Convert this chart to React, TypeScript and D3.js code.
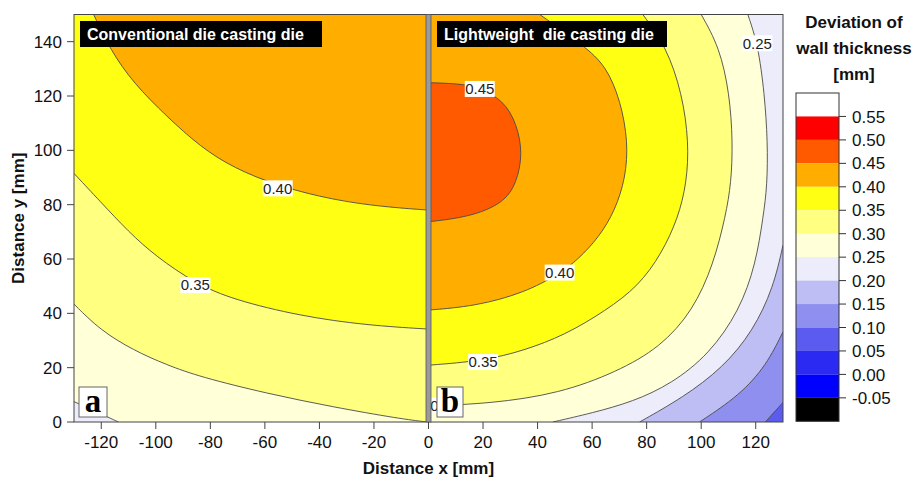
import React from 'react';
import * as d3 from 'd3';

// contour levels (legend, top to bottom) and the band colour above each level
const levels = [0.55, 0.5, 0.45, 0.4, 0.35, 0.3, 0.25, 0.2, 0.15, 0.1, 0.05, 0.0, -0.05];
const bandColors = ['#ffffff', '#ff0000', '#ff5a00', '#ffae00', '#ffff14', '#ffff80', '#ffffd8',
  '#ececfa', '#bebef5', '#8f8ff0', '#5b5bf0', '#2a2af2', '#0000ff', '#000000'];

const xTicks = [-120, -100, -80, -60, -40, -20, 0, 20, 40, 60, 80, 100, 120];
const yTicks = [0, 20, 40, 60, 80, 100, 120, 140];

// conventional die (x < 0), contour lines [x mm, y mm]
const conv25 = [[-130, 7.5], [-121, 3.4], [-113.7, 0]];
const conv30 = [[-130, 43.4], [-120.4, 33.8], [-108.2, 26.4], [-96, 21], [-83.7, 16.6], [-59.3, 10.5], [-34.9, 5.5], [-10.5, 1.2], [-0.5, 0]];
const conv35 = [[-130, 91.5], [-120.4, 81.2], [-110, 70], [-100, 61], [-85.5, 51], [-71.5, 45], [-47, 39], [-22.7, 35.6], [0, 34.2]];
const conv40 = [[-122.8, 150], [-116.7, 137], [-108.2, 124.7], [-95.9, 112.4], [-83.7, 101.3], [-71.5, 93.5], [-55, 86.8], [-34.9, 81.7], [-16.6, 79.2], [0, 78]];

// lightweight die (x > 0)
const light10 = [[130, 7.2], [126.5, 3.3], [123.5, 0]];
const light15 = [[130, 33.2], [124, 21], [114.1, 9.8], [99.4, 0]];
const light20 = [[130, 65.1], [126.5, 49.5], [119, 33.5], [108, 20], [93.3, 9], [77.4, 0]];
const light25 = [[117.1, 150], [120.8, 139], [123.2, 121], [124.4, 103], [124.2, 87], [122.8, 76], [120, 58], [114, 41], [103, 25], [89, 14], [75, 7.5], [60, 3.3], [45.6, 0]];
const light30 = [[100, 150], [106.7, 138], [110.4, 121], [111.6, 103], [111, 88], [109, 76], [104.5, 58], [97, 41], [85, 27.5], [69, 18.4], [48, 10.5], [23, 6.8], [0, 5.9]];
const light35 = [[78.6, 150], [87.2, 138.2], [93, 121], [95.5, 103], [94.7, 88], [91.5, 75], [85.5, 62], [77, 50], [65, 41], [50, 32], [35, 26.3], [20, 22.5], [0, 20.9]];
const light40 = [[40.8, 150], [57, 138.5], [65.2, 131], [70.5, 118], [73.2, 103], [72.3, 90], [68.5, 78], [62.5, 68], [55, 60], [48, 54.5], [35, 47.5], [17, 42.6], [0, 41.2]];
const light45 = [[0, 124.9], [12.7, 124.5], [18.8, 122.8], [27.4, 118.5], [32.3, 110], [34.6, 98.9], [32.3, 87.8], [27.4, 80.5], [15.2, 75.5], [0, 73.7]];

// inline contour labels [x, y, text]
const labels: [number, number, string][] = [
  [-55.3, 86, '0.40'], [-85.5, 50.4, '0.35'],
  [18.8, 122.6, '0.45'], [48.1, 55, '0.40'], [20, 22.1, '0.35'], [120.6, 139.4, '0.25'], [6, 6.1, '0.30'],
];

const x = d3.scaleLinear().domain([-130, 130]).range([74, 783]);
const y = d3.scaleLinear().domain([0, 150]).range([422, 14.5]);
const legendY = d3.scaleLinear().domain([0.6, -0.1]).range([93, 421.3]);
const x0 = x(0);

const line = d3.line<number[]>().x(d => x(d[0])).y(d => y(d[1])).curve(d3.curveBasis);
const region = (pts: number[][], close: number[][]) =>
  line(pts) + close.map(c => `L${x(c[0])},${y(c[1])}`).join('') + 'Z';
const above = (lv: number) => bandColors[levels.indexOf(lv)];
const below = (lv: number) => bandColors[levels.indexOf(lv) + 1];

const leftSets = [
  { lv: 0.25, pts: conv25, close: [[0, 0], [0, 150], [-130, 150]] },
  { lv: 0.3, pts: conv30, close: [[0, 0], [0, 150], [-130, 150]] },
  { lv: 0.35, pts: conv35, close: [[0, 150], [-130, 150]] },
  { lv: 0.4, pts: conv40, close: [[0, 150]] },
];
const rightSets = [
  { lv: 0.1, pts: light10, close: [[0, 0], [0, 150], [130, 150]] },
  { lv: 0.15, pts: light15, close: [[0, 0], [0, 150], [130, 150]] },
  { lv: 0.2, pts: light20, close: [[0, 0], [0, 150], [130, 150]] },
  { lv: 0.25, pts: light25, close: [[0, 0], [0, 150]] },
  { lv: 0.3, pts: light30, close: [[0, 150]] },
  { lv: 0.35, pts: light35, close: [[0, 150]] },
  { lv: 0.4, pts: light40, close: [[0, 150]] },
  { lv: 0.45, pts: light45, close: [] },
];

const font = 'Arial, "Liberation Sans", sans-serif';
const serif = '"Liberation Serif", "Times New Roman", serif';

const Panel = ({ id, sets, bg, x1, x2 }: any) => (
  <g>
    <clipPath id={id}>
      <rect x={x(x1)} y={y(150)} width={x(x2) - x(x1)} height={y(0) - y(150)} />
    </clipPath>
    <g clipPath={`url(#${id})`}>
      <rect x={x(x1)} y={y(150)} width={x(x2) - x(x1)} height={y(0) - y(150)} fill={bg} />
      {sets.map((s: any, i: number) => (
        <path key={'f' + i} d={region(s.pts, s.close)} fill={above(s.lv)} />
      ))}
      {sets.map((s: any, i: number) => (
        <path key={'l' + i} d={line(s.pts) || ''} fill="none" stroke="#4a4a4a" strokeWidth={0.9} />
      ))}
    </g>
  </g>
);

export default function App() {
  return (
    <svg width={914} height={482} style={{ display: 'block', position: 'absolute', left: 0, top: 0 }}>
      <rect width={914} height={482} fill="#fff" />
      <Panel id="clipL" sets={leftSets} bg={below(0.25)} x1={-130} x2={0} />
      <Panel id="clipR" sets={rightSets} bg={below(0.1)} x1={0} x2={130} />

      {labels.map(([lx, ly, t], i) => (
        <g key={i}>
          <rect x={x(lx) - 15} y={y(ly) - 8} width={30} height={16} fill="#fff" />
          <text x={x(lx)} y={y(ly)} dy="0.36em" textAnchor="middle" fontFamily={font} fontSize={15} fill="#222">{t}</text>
        </g>
      ))}

      {/* frame and divider */}
      <rect x={x(-130)} y={y(150)} width={x(130) - x(-130)} height={y(0) - y(150)} fill="none" stroke="#444" strokeWidth={1} />
      <rect x={x0 - 2.5} y={y(150)} width={5} height={y(0) - y(150)} fill="#9a9a9a" stroke="#555" strokeWidth={0.8} />

      {/* panel titles */}
      <rect x={80} y={21} width={242} height={26} fill="#000" />
      <text x={87} y={40} fontFamily={font} fontWeight="bold" fontSize={16} fill="#fff">Conventional die casting die</text>
      <rect x={437} y={21} width={230} height={26} fill="#000" />
      <text x={444} y={40} fontFamily={font} fontWeight="bold" fontSize={16} fill="#fff" style={{ whiteSpace: 'pre' }}>Lightweight  die casting die</text>

      {/* panel letters */}
      <rect x={79} y={387} width={28} height={30} fill="#fff" stroke="#666" strokeWidth={1} />
      <text x={93} y={412} textAnchor="middle" fontFamily={serif} fontWeight="bold" fontSize={33} fill="#000">a</text>
      <rect x={437} y={387} width={26} height={30} fill="#fff" stroke="#666" strokeWidth={1} />
      <text x={450} y={412} textAnchor="middle" fontFamily={serif} fontWeight="bold" fontSize={33} fill="#000">b</text>

      {/* axes */}
      {xTicks.map(t => (
        <g key={'x' + t}>
          <line x1={x(t)} x2={x(t)} y1={y(0)} y2={y(0) + 7} stroke="#444" />
          <text x={x(t)} y={448} textAnchor="middle" fontFamily={font} fontSize={17} fill="#111">{t}</text>
        </g>
      ))}
      {yTicks.map(t => (
        <g key={'y' + t}>
          <line x1={x(-130) - 7} x2={x(-130)} y1={y(t)} y2={y(t)} stroke="#444" />
          <text x={62} y={y(t)} dy="0.36em" textAnchor="end" fontFamily={font} fontSize={17} fill="#111">{t}</text>
        </g>
      ))}
      <text x={x0} y={474} textAnchor="middle" fontFamily={font} fontWeight="bold" fontSize={17} fill="#111">Distance x [mm]</text>
      <text transform={`translate(24,${(y(0) + y(150)) / 2}) rotate(-90)`} textAnchor="middle" fontFamily={font} fontWeight="bold" fontSize={17} fill="#111">Distance y [mm]</text>

      {/* legend */}
      <text x={854} y={28} textAnchor="middle" fontFamily={font} fontWeight="bold" fontSize={17} fill="#111">Deviation of</text>
      <text x={854} y={54} textAnchor="middle" fontFamily={font} fontWeight="bold" fontSize={17} fill="#111">wall thickness</text>
      <text x={854} y={80} textAnchor="middle" fontFamily={font} fontWeight="bold" fontSize={17} fill="#111">[mm]</text>
      {bandColors.map((c, i) => {
        const top = legendY(i === 0 ? 0.6 : levels[i - 1]);
        const bot = legendY(i === levels.length ? -0.1 : levels[i]);
        return <rect key={'b' + i} x={796} y={top} width={43} height={bot - top} fill={c} />;
      })}
      <rect x={796} y={legendY(0.6)} width={43} height={legendY(-0.1) - legendY(0.6)} fill="none" stroke="#333" />
      {levels.map(lv => (
        <g key={'l' + lv}>
          <line x1={839} x2={846} y1={legendY(lv)} y2={legendY(lv)} stroke="#333" />
          <text x={852} y={legendY(lv)} dy="0.36em" fontFamily={font} fontSize={17} fill="#111">{lv.toFixed(2)}</text>
        </g>
      ))}
    </svg>
  );
}
